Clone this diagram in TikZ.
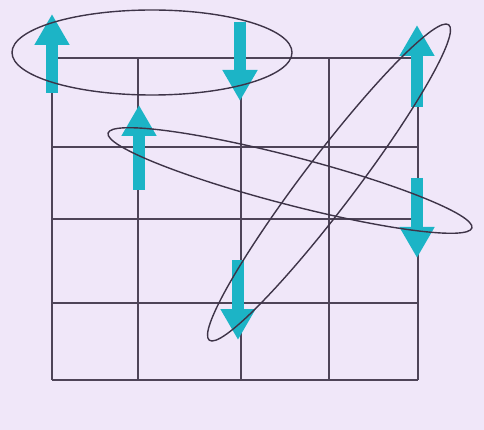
\documentclass[tikz,border=0pt]{standalone}
\usepackage{tikz}
\usetikzlibrary{arrows.meta}
\definecolor{paper}{RGB}{240,231,249}
\definecolor{gridink}{RGB}{78,68,88}
\definecolor{ringink}{RGB}{62,52,72}
\definecolor{spincyan}{RGB}{28,180,198}
\newcommand{\spin}[3]{\draw[spinarr] (#1,#2) -- (#1,#3);}
\tikzset{
  gridln/.style={gridink, line width=2pt},
  ring/.style={ringink, line width=1.4pt},
  spinarr/.style={spincyan, line width=12pt,
    -{Triangle[length=31pt, width=33pt]}},
}
\begin{document}
\begin{tikzpicture}[x=1pt,y=-1pt]
\fill[paper] (0,0) rectangle (484,430);
\useasboundingbox (0,0) rectangle (484,430);
% lattice
\foreach \gx in {52,138,241,329,418}
  \draw[gridln] (\gx,58) -- (\gx,380);
\foreach \gy in {58,147,219,303,380}
  \draw[gridln] (52,\gy) -- (418,\gy);
% spins
\spin{52}{93}{14}
\spin{240}{22}{101}
\spin{417}{107}{25}
\spin{139}{190}{105}
\spin{417}{178}{258}
\spin{238}{260}{340}
% pairs
\draw[ring] (152,52.5) ellipse [x radius=140, y radius=42.5];
\draw[ring, rotate around={-14.6:(290,180.5)}] (290,180.5) ellipse [x radius=188, y radius=24];
\draw[ring, rotate around={52.8:(329,182.5)}] (329,182.5) ellipse [x radius=198, y radius=26];
\end{tikzpicture}
\end{document}
